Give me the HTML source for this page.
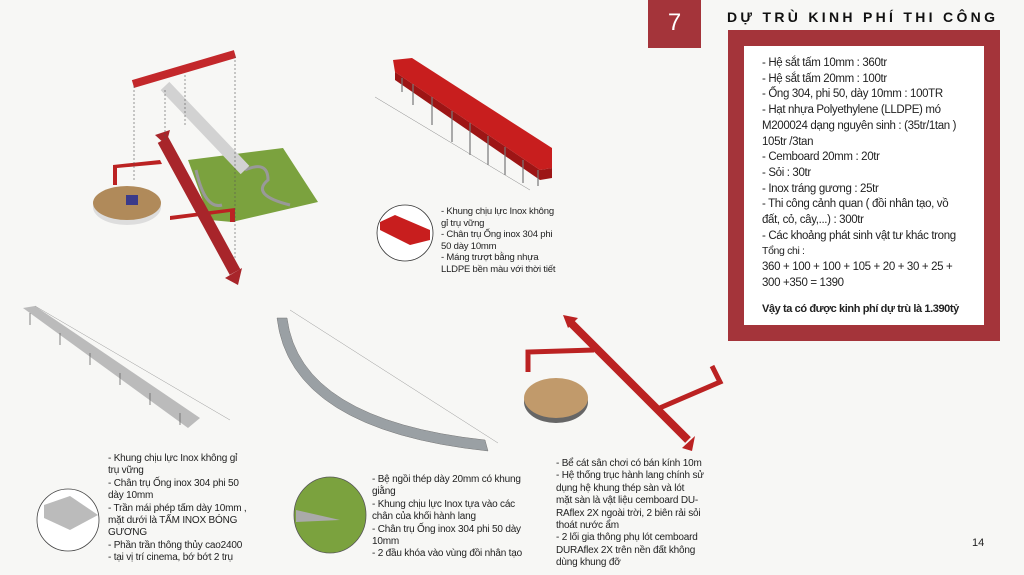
<!DOCTYPE html>
<html><head><meta charset="utf-8"><style>
body{margin:0;width:1024px;height:575px;background:#f7f7f5;position:relative;overflow:hidden;font-family:"Liberation Sans","Noto Sans CJK SC",sans-serif;color:#222}
.t{position:absolute;font-size:9.5px;line-height:11.6px;color:#222;letter-spacing:-0.2px;white-space:nowrap}
#num{position:absolute;left:648px;top:0;width:53px;height:48px;background:#a4343a;color:#fff;font-size:24px;text-align:center;line-height:46px}
#title{position:absolute;left:727px;top:9px;font-size:14px;font-weight:bold;letter-spacing:3.3px;color:#111;white-space:nowrap}
#box{position:absolute;left:728px;top:30px;width:240px;height:279px;border:16px solid #a4343a;background:#fff}
#bt{position:absolute;left:762px;top:56px;font-size:11.5px;line-height:15.7px;color:#222;letter-spacing:-0.35px;white-space:nowrap}
</style></head><body>
<svg width="1024" height="575" style="position:absolute;left:0;top:0">
<polygon points="188,160 283,148 318,202 232,222 210,220" fill="#7ba23e"/>
<path d="M196,170 Q205,210 222,205 M245,170 Q268,160 268,180 Q250,195 290,205" stroke="#999" stroke-width="3" fill="none"/>
<polygon points="113,165 160,160 162,164 117,168 117,185 113,185" fill="#b22"/>
<polygon points="170,216 235,208 235,222 230,222 230,212 170,220" fill="#b22"/>
<line x1="133" y1="84" x2="235" y2="54" stroke="#c3282b" stroke-width="8"/>
<line x1="165" y1="86" x2="245" y2="170" stroke="#ddd" stroke-width="12"/>
<line x1="165" y1="86" x2="245" y2="170" stroke="#bbb" stroke-width="12" stroke-opacity="0.3"/>
<line x1="163" y1="140" x2="235" y2="272" stroke="#a8252a" stroke-width="12"/>
<polygon points="155,135 170,130 166,145" fill="#a8252a"/>
<polygon points="225,278 242,268 238,285" fill="#a8252a"/>
<g stroke="#555" stroke-width="0.6" stroke-dasharray="2,2">
<line x1="134" y1="86" x2="134" y2="180"/><line x1="235" y1="56" x2="235" y2="260"/><line x1="185" y1="75" x2="185" y2="125"/><line x1="165" y1="90" x2="165" y2="140"/>
</g>
<ellipse cx="127" cy="207" rx="34" ry="18" fill="#ddd"/>
<ellipse cx="127" cy="203" rx="34" ry="17" fill="#b08a5a"/>
<rect x="126" y="195" width="12" height="10" fill="#3a3a8a"/>
<polygon points="393,60 412,58 552,148 552,168 540,170 395,72" fill="#c81e1e"/>
<polygon points="395,72 540,170 552,168 552,178 540,180 395,80" fill="#9d1515"/>
<g stroke="#777" stroke-width="1.2">
<line x1="402" y1="78" x2="402" y2="92"/><line x1="413" y1="84" x2="413" y2="105"/><line x1="432" y1="97" x2="432" y2="125"/><line x1="452" y1="111" x2="452" y2="142"/><line x1="470" y1="123" x2="470" y2="155"/><line x1="488" y1="136" x2="488" y2="165"/><line x1="505" y1="147" x2="505" y2="175"/><line x1="523" y1="160" x2="523" y2="183"/><line x1="538" y1="170" x2="538" y2="186"/>
</g>
<line x1="375" y1="97" x2="530" y2="190" stroke="#888" stroke-width="0.5"/>
<circle cx="405" cy="233" r="28" fill="#fff" stroke="#333" stroke-width="0.8"/>
<polygon points="380,222 395,215 430,230 430,240 410,245 380,230" fill="#c81e1e"/>
<polygon points="23,308 35,306 200,418 188,428" fill="#bbb"/>
<line x1="35" y1="306" x2="230" y2="420" stroke="#999" stroke-width="0.5"/>
<g stroke="#666" stroke-width="0.8"><line x1="30" y1="313" x2="30" y2="325"/><line x1="60" y1="333" x2="60" y2="345"/><line x1="90" y1="353" x2="90" y2="365"/><line x1="120" y1="373" x2="120" y2="385"/><line x1="150" y1="393" x2="150" y2="405"/><line x1="180" y1="413" x2="180" y2="425"/></g>
<circle cx="68" cy="520" r="31" fill="#fff" stroke="#444" stroke-width="0.8"/>
<polygon points="44,505 70,496 98,515 70,530 44,518" fill="#bbb"/>
<path d="M287,318 Q300,420 485,440 L488,451 Q290,430 277,318 Z" fill="#9aa0a4" stroke="#777" stroke-width="0.5"/>
<line x1="290" y1="310" x2="498" y2="443" stroke="#999" stroke-width="0.5"/>
<ellipse cx="330" cy="515" rx="36" ry="38" fill="#7ba23e" stroke="#555" stroke-width="0.8"/>
<polygon points="296,510 340,520 296,522" fill="#aaa"/>
<line x1="570" y1="322" x2="688" y2="440" stroke="#b22" stroke-width="8"/>
<polygon points="563,315 578,318 568,328" fill="#b22"/>
<polygon points="682,448 695,436 692,451" fill="#b22"/>
<polyline points="594,350 528,352 528,372" stroke="#b22" stroke-width="5" fill="none"/>
<polyline points="655,410 720,382 712,366" stroke="#b22" stroke-width="5" fill="none"/>
<ellipse cx="556" cy="402" rx="32" ry="21" fill="#666"/>
<ellipse cx="556" cy="398" rx="32" ry="20" fill="#c19a6b"/>
</svg>
<div id="num">7</div>
<div id="title">DỰ TRÙ KINH PHÍ THI CÔNG</div>
<div id="box"></div>
<div id="bt">- Hệ sắt tấm 10mm : 360tr<br>- Hệ sắt tấm 20mm : 100tr<br>- Ống 304, phi 50, dày 10mm : 100TR<br>- Hạt nhựa Polyethylene (LLDPE) mó<br>M200024 dạng nguyên sinh : (35tr/1tan )<br>105tr /3tan<br>- Cemboard 20mm : 20tr<br>- Sỏi : 30tr<br>- Inox tráng gương : 25tr<br>- Thi công cảnh quan ( đồi nhân tạo, vồ<br>đất, cỏ, cây,...) : 300tr<br>- Các khoảng phát sinh vật tư khác trong<br><span style="font-size:10.5px">Tổng chi :</span><br>360 + 100 + 100 + 105 + 20 + 30 + 25 +<br>300 +350 = 1390<br><div style="height:10px"></div><b style="font-size:11px;letter-spacing:-0.4px">Vậy ta có được kinh phí dự trù là 1.390tỷ</b></div>
<div class="t" style="left:441px;top:206px">- Khung chịu lực Inox  không<br>gỉ trụ vững<br>- Chân trụ Ống inox 304 phi<br>50 dày 10mm<br>- Máng trượt bằng nhựa<br>LLDPE bền màu với thời tiết</div>
<div class="t" style="left:108px;top:453px;font-size:10px;line-height:12.4px">- Khung chịu lực Inox  không gỉ<br>trụ vững<br>- Chân trụ Ống inox 304 phi 50<br>dày 10mm<br>- Trần mái phép tấm dày 10mm ,<br>mặt dưới là TẤM INOX BÓNG<br>GƯƠNG<br>- Phần trần thông thủy cao2400<br>- tại vị trí cinema, bớ bớt 2 trụ</div>
<div class="t" style="left:372px;top:474px;font-size:10px;line-height:12.4px">- Bệ ngồi thép dày 20mm có khung<br>giằng<br>- Khung chịu lực Inox  tựa vào các<br>chân của khối hành lang<br>- Chân trụ Ống inox 304 phi 50 dày<br>10mm<br>- 2 đầu khóa vào vùng đồi nhân tạo</div>
<div class="t" style="left:556px;top:458px;font-size:10px;line-height:12.4px">- Bể cát sân chơi có bán kính 10m<br>- Hệ thống trục hành lang chính sử<br>dụng hệ khung thép sàn và lót<br>mặt sàn là vật liệu cemboard DU-<br>RAflex 2X ngoài trời, 2 biên rải sỏi<br>thoát nước ẩm<br>- 2 lối gia thông phụ lót cemboard<br>DURAflex 2X trên nền đất không<br>dùng khung đỡ</div>
<div style="position:absolute;left:972px;top:537px;font-size:11px">14</div>
</body></html>
